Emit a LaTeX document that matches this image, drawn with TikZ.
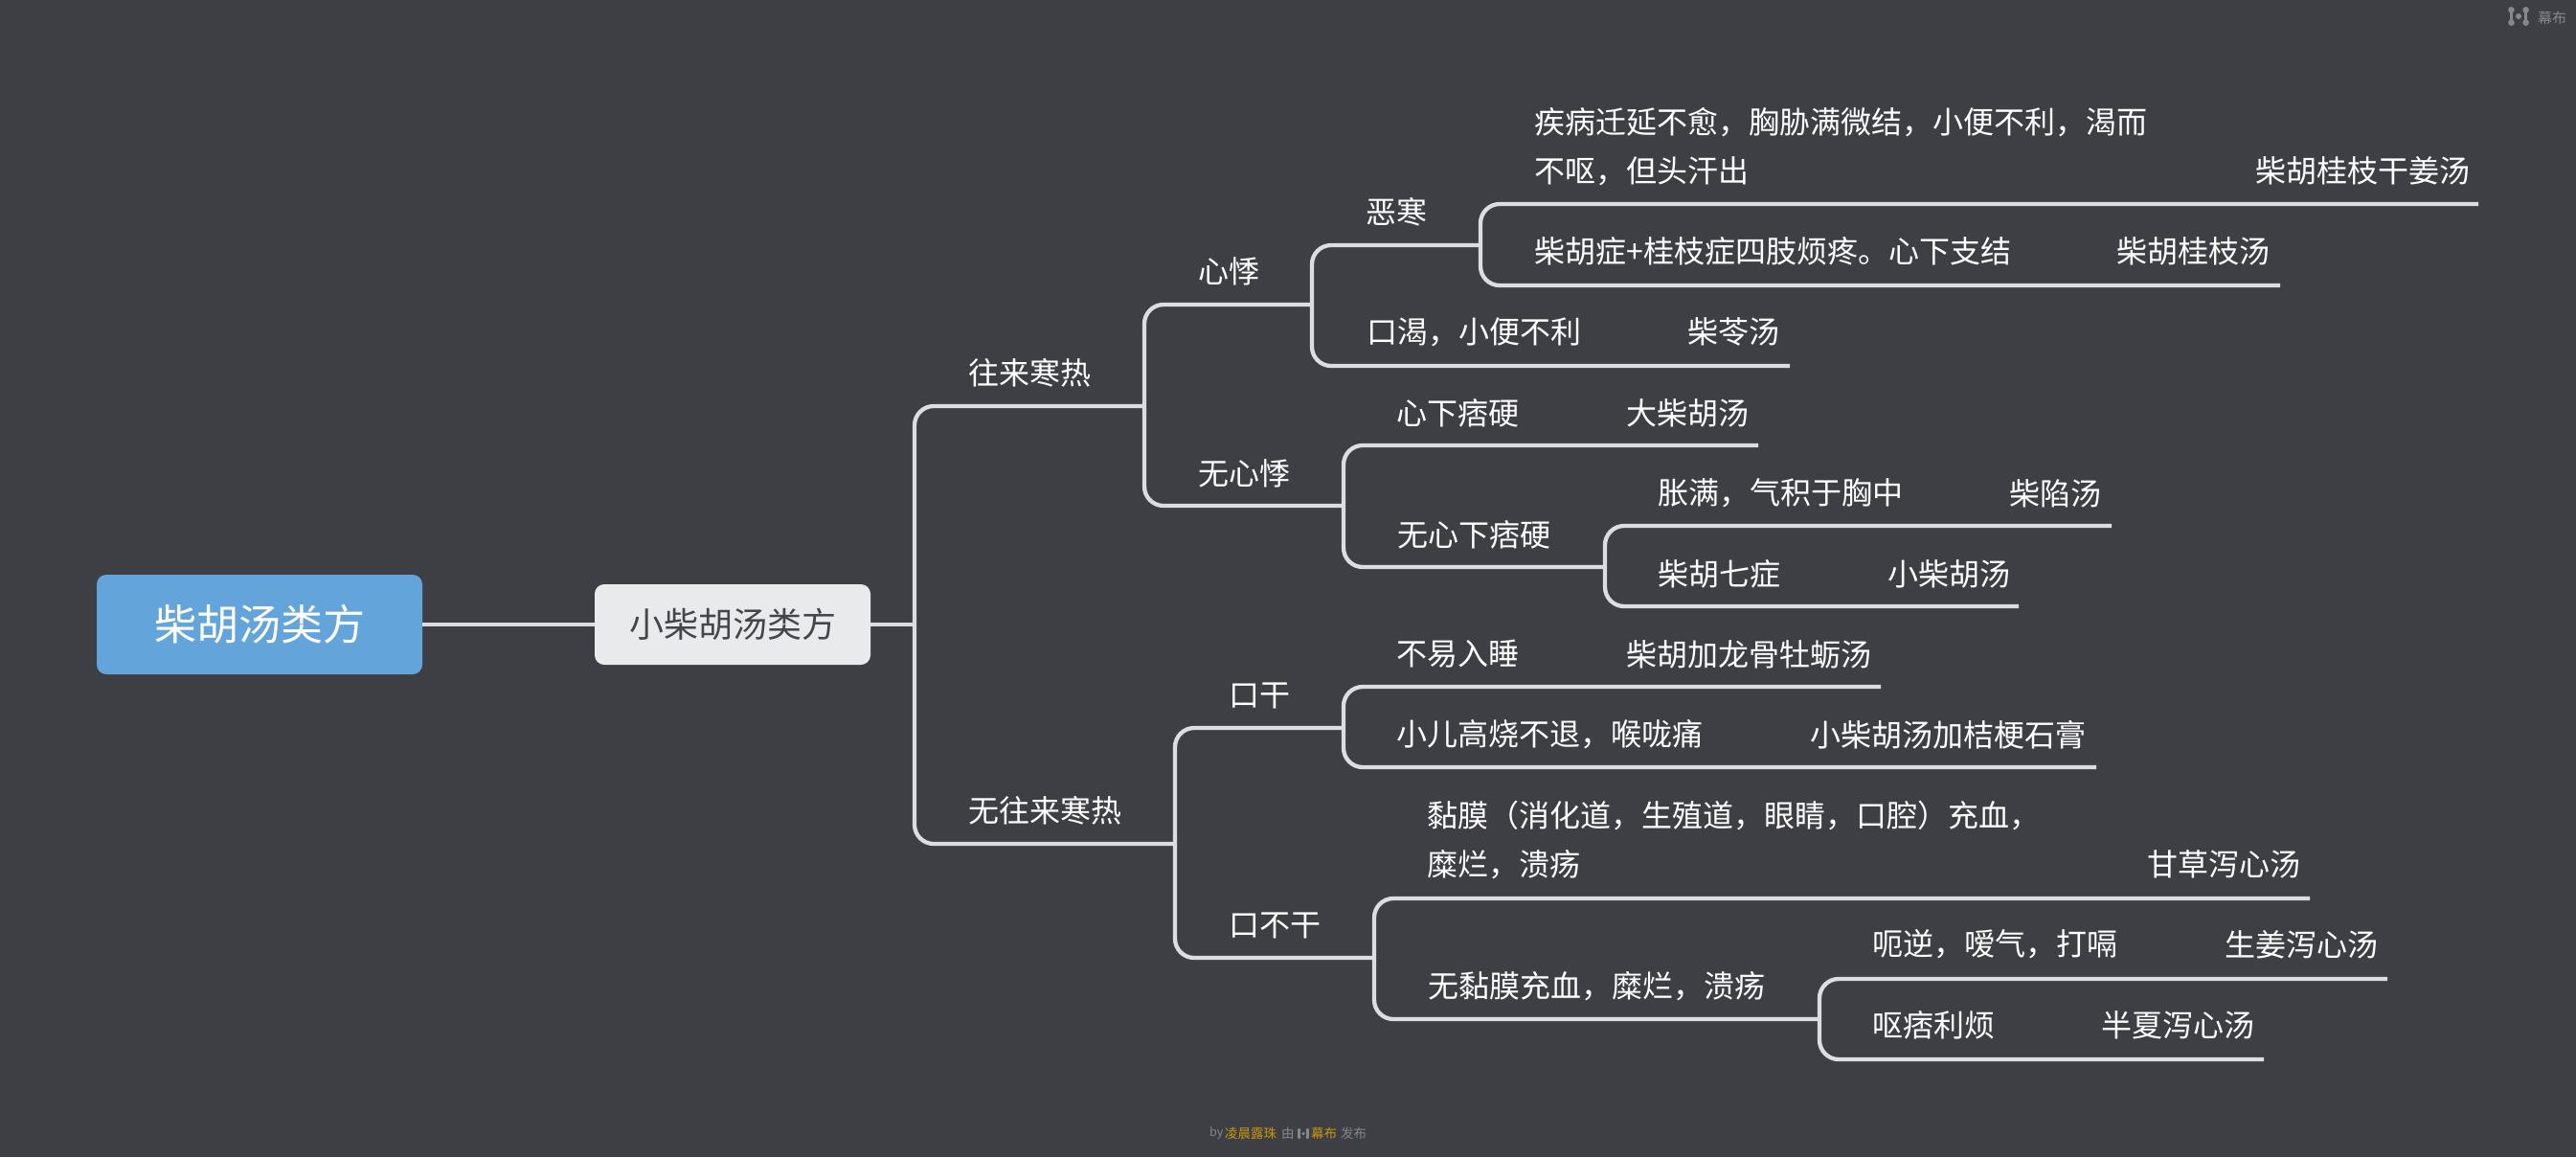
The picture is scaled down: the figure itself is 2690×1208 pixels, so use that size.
\documentclass[tikz,border=0pt]{standalone}
\usepackage{fontspec}
\setmainfont{Noto Sans CJK SC}
\definecolor{bgcol}{HTML}{3E3F44}
\definecolor{rootcol}{HTML}{63A5DA}
\definecolor{subcol}{HTML}{E9EAEC}
\definecolor{linecol}{HTML}{DCDDE0}
\definecolor{darkcol}{HTML}{45464B}
\definecolor{footcol}{HTML}{85878B}
\definecolor{namecol}{HTML}{C8960F}
\tikzset{
	rootbox/.style={fill=rootcol,text=white,rounded corners=10pt,minimum width=340pt,minimum height=104pt,inner sep=0pt,font=\fontsize{44}{44}\selectfont},
	subbox/.style={fill=subcol,text=darkcol,rounded corners=10pt,minimum width=288pt,minimum height=84pt,inner sep=0pt,font=\fontsize{36}{36}\selectfont},
	txt/.style={anchor=west,text=white,inner sep=0pt,align=left,font=\fontsize{32}{51.5}\selectfont},
	branch/.style={draw=linecol,line width=4.3pt,rounded corners=20pt},
	foot/.style={anchor=west,inner sep=0pt,text=footcol,font=\fontsize{13.5}{14}\selectfont},
	footname/.style={foot,text=namecol}
}
\newcommand{\mubulogo}[3]{%
	\begin{scope}[shift={(#1,#2)},scale=#3,fill=footcol,draw=footcol]
		\draw[line width=3pt] (-8,-6) -- (-8,6);
		\draw[line width=3pt] (8,-6) -- (8,6);
		\fill (-8,-7) circle (3.5) (-8,7) circle (3.5) (8,-7) circle (3.5) (8,7) circle (3.5) (0,0) circle (3.2);
	\end{scope}}
\begin{document}
\begin{tikzpicture}[x=1pt,y=-1pt]
	\fill[bgcol] (0,0) rectangle (2690,1208);
	\useasboundingbox (0,0) rectangle (2690,1208);
	% boxes
	\node[rootbox] (root) at (271,652) {柴胡汤类方};
	\node[subbox] (sub) at (765,652) {小柴胡汤类方};
	% joints
	\coordinate (wanglai) at (955,652);
	\coordinate (xinji) at (1195,424);
	\coordinate (wuwanglai) at (1227,881);
	\coordinate (ehan) at (1370,318);
	\coordinate (wuxinji) at (1403,528);
	\coordinate (guizhi) at (1546,256);
	\coordinate (wupi) at (1676,592);
	\coordinate (kougan) at (1403,760);
	\coordinate (bugan) at (1435,1000);
	\coordinate (wunian) at (1900,1064);
	% free ends
	\coordinate (endganjiang) at (2588,213);
	\coordinate (endguizhi) at (2381,298);
	\coordinate (endling) at (1869,382);
	\coordinate (enddachai) at (1836,465);
	\coordinate (endxian) at (2205,549);
	\coordinate (endxiaochai) at (2108,633);
	\coordinate (endlonggu) at (1964,717);
	\coordinate (endjiegeng) at (2189,801);
	\coordinate (endgancao) at (2412,938);
	\coordinate (endshengjiang) at (2493,1022);
	\coordinate (endbanxia) at (2364,1106);
	% connectors
	\draw[branch] (root) -- (sub);
	\draw[branch] (sub) -- (wanglai);
	\draw[branch] (wanglai) |- (xinji);
	\draw[branch] (wanglai) |- (wuwanglai);
	\draw[branch] (xinji) |- (ehan);
	\draw[branch] (xinji) |- (wuxinji);
	\draw[branch] (ehan) |- (guizhi);
	\draw[branch] (ehan) |- (endling);
	\draw[branch] (guizhi) |- (endganjiang);
	\draw[branch] (guizhi) |- (endguizhi);
	\draw[branch] (wuxinji) |- (enddachai);
	\draw[branch] (wuxinji) |- (wupi);
	\draw[branch] (wupi) |- (endxian);
	\draw[branch] (wupi) |- (endxiaochai);
	\draw[branch] (wuwanglai) |- (kougan);
	\draw[branch] (wuwanglai) |- (bugan);
	\draw[branch] (kougan) |- (endlonggu);
	\draw[branch] (kougan) |- (endjiegeng);
	\draw[branch] (bugan) |- (endgancao);
	\draw[branch] (bugan) |- (wunian);
	\draw[branch] (wunian) |- (endshengjiang);
	\draw[branch] (wunian) |- (endbanxia);
	% labels
	\node[txt] (twanglai) at (1011,389) {往来寒热};
	\node[txt] (twuwanglai) at (1011,846) {无往来寒热};
	\node[txt] (txinji) at (1251.5,283) {心悸};
	\node[txt] (twuxinji) at (1251.5,494) {无心悸};
	\node[txt] (tehan) at (1426.5,221) {恶寒};
	\node[txt] (tganjiang) at (1602.5,153) {疾病迁延不愈，胸胁满微结，小便不利，渴而\\不呕，但头汗出};
	\node[txt] (fganjiang) at (2355,178.5) {柴胡桂枝干姜汤};
	\node[txt] (tguizhi) at (1602.5,262) {柴胡症+桂枝症四肢烦疼。心下支结};
	\node[txt] (fguizhi) at (2210.5,262) {柴胡桂枝汤};
	\node[txt] (tling) at (1427.5,346.5) {口渴，小便不利};
	\node[txt] (fling) at (1762.5,346.5) {柴苓汤};
	\node[txt] (tpi) at (1458.5,431) {心下痞硬};
	\node[txt] (fpi) at (1698,431) {大柴胡汤};
	\node[txt] (twupi) at (1459.5,558) {无心下痞硬};
	\node[txt] (txian) at (1731.5,515) {胀满，气积于胸中};
	\node[txt] (fxian) at (2098.5,515) {柴陷汤};
	\node[txt] (tqi) at (1731.5,599) {柴胡七症};
	\node[txt] (fqi) at (1971,599) {小柴胡汤};
	\node[txt] (tkougan) at (1283.5,726) {口干};
	\node[txt] (tbugan) at (1283.5,966) {口不干};
	\node[txt] (tshui) at (1458.5,683) {不易入睡};
	\node[txt] (fshui) at (1698.5,683) {柴胡加龙骨牡蛎汤};
	\node[txt] (tgaoshao) at (1458.5,767) {小儿高烧不退，喉咙痛};
	\node[txt] (fgaoshao) at (1890.5,767) {小柴胡汤加桔梗石膏};
	\node[txt] (tnian) at (1490.5,877) {黏膜（消化道，生殖道，眼睛，口腔）充血，\\糜烂，溃疡};
	\node[txt] (fnian) at (2242.5,902.5) {甘草泻心汤};
	\node[txt] (twunian) at (1491.5,1029.5) {无黏膜充血，糜烂，溃疡};
	\node[txt] (te) at (1955.5,986) {呃逆，嗳气，打嗝};
	\node[txt] (fe) at (2323.5,986) {生姜泻心汤};
	\node[txt] (tou) at (1955.5,1070) {呕痞利烦};
	\node[txt] (fou) at (2194.5,1070) {半夏泻心汤};
	% footer
	\node[foot,font=\fontsize{12.5}{14}\selectfont] (fby) at (1263,1183) {by};
	\node[footname] (fname) at (1279,1183) {凌晨露珠};
	\node[foot] (fyou) at (1338,1183) {由};
	\mubulogo{1361}{1183.5}{0.55}
	\node[footname] (fmu) at (1369,1183) {幕布};
	\node[foot] (ffa) at (1400,1183) {发布};
	% corner mark
	\mubulogo{2630}{17}{0.95}
	\node[foot,font=\fontsize{15}{15}\selectfont] (cmu) at (2650,19) {幕布};
\end{tikzpicture}
\end{document}
